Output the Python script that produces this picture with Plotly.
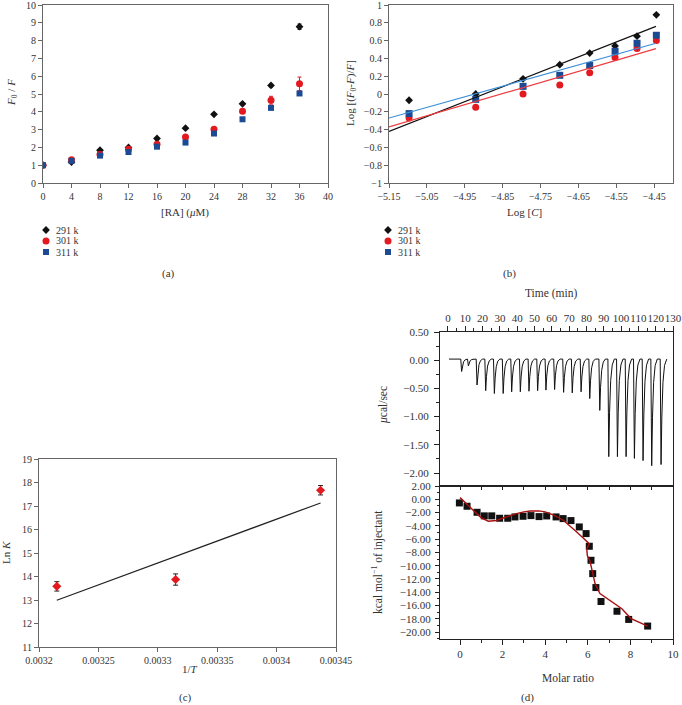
import plotly.graph_objects as go

# ---------------- data ----------------
# (a) Stern-Volmer
ra_conc = [0, 4, 8, 12, 16, 20, 24, 28, 32, 36]
a_291 = [1.0, 1.18, 1.84, 2.0, 2.5, 3.08, 3.86, 4.45, 5.48, 8.78]
a_291_err = [0.03, 0.04, 0.05, 0.05, 0.05, 0.05, 0.05, 0.06, 0.08, 0.15]
a_301 = [1.0, 1.31, 1.6, 1.89, 2.18, 2.59, 3.02, 4.03, 4.65, 5.57]
a_301_err = [0.03, 0.05, 0.06, 0.06, 0.08, 0.1, 0.08, 0.12, 0.22, 0.38]
a_311 = [1.0, 1.24, 1.54, 1.74, 2.04, 2.27, 2.78, 3.58, 4.22, 5.03]
a_311_err = [0.03, 0.04, 0.05, 0.05, 0.05, 0.06, 0.08, 0.06, 0.08, 0.1]

# (b) double-log plot
log_c = [-5.097, -4.921, -4.796, -4.699, -4.620, -4.553, -4.495, -4.444]
b_291 = [-0.07, 0.0, 0.17, 0.33, 0.46, 0.54, 0.65, 0.89]
b_301 = [-0.27, -0.15, 0.0, 0.10, 0.24, 0.41, 0.51, 0.60]
b_311 = [-0.22, -0.06, 0.086, 0.21, 0.32, 0.48, 0.57, 0.66]
fit_b_x = [-5.15, -4.445]
fit_b_291 = [-0.42, 0.76]
fit_b_301 = [-0.37, 0.51]
fit_b_311 = [-0.27, 0.57]

# (c) van't Hoff
inv_t = [0.003215, 0.003315, 0.003437]
ln_k = [13.58, 13.87, 17.67]
ln_k_err = [0.2, 0.24, 0.2]
fit_c_x = [0.003215, 0.003437]
fit_c_y = [12.99, 17.13]

# (d) ITC raw data: injection time (min) and peak heat rate (ucal/sec)
inj_time = [7.9, 11.8, 16.8, 21.8, 26.8, 31.9, 36.8, 41.8, 46.8, 51.8, 56.6, 61.6,
            66.8, 71.8, 76.9, 81.9, 87.7, 92.9, 97.9, 102.9, 107.7, 112.7, 117.7, 123.1]
inj_peak = [-0.2, -0.1, -0.44, -0.54, -0.59, -0.59, -0.56, -0.56, -0.55, -0.54, -0.53, -0.52,
            -0.57, -0.58, -0.56, -0.68, -0.89, -1.71, -1.71, -1.71, -1.74, -1.78, -1.87, -1.85]
therm_baseline = 0.02
therm_start, therm_end = 0.6, 126.4

# (d) integrated heats
molar_ratio = [-0.03, 0.33, 0.8, 1.14, 1.49, 1.86, 2.24, 2.58, 2.96, 3.33, 3.71, 4.07, 4.51,
               4.84, 5.21, 5.6, 5.92, 6.07, 6.15, 6.23, 6.38, 6.62, 7.37, 7.92, 8.81]
kcal_inj = [-0.55, -1.05, -1.96, -2.5, -2.5, -2.86, -2.86, -2.66, -2.56, -2.46, -2.61, -2.51, -2.66,
            -2.91, -3.21, -4.17, -5.17, -7.08, -9.19, -11.2, -13.3, -15.4, -16.87, -18.1, -19.1]
fit_mr = [0.0, 0.4, 0.8, 1.0, 1.33, 1.7, 2.1, 2.6, 3.0, 3.3, 3.7, 4.0, 4.4, 4.85, 5.48, 6.07,
          5.95, 5.98, 6.1, 6.21, 6.34, 6.57, 6.95, 7.35, 7.6, 8.03, 8.81]
fit_kcal = [0.25, -0.9, -2.2, -2.8, -3.3, -3.2, -2.75, -2.2, -1.9, -1.76, -1.75, -1.9, -2.4, -3.16,
            -4.92, -6.68, -7.5, -8.5, -9.3, -10.9, -12.7, -14.2, -15.0, -15.9, -16.5, -17.97, -19.1]

series_names = ["291 k", "301 k", "311 k"]

# tick labels
a_xticks = [0, 4, 8, 12, 16, 20, 24, 28, 32, 36, 40]
a_yticks = [0, 1, 2, 3, 4, 5, 6, 7, 8, 9, 10]
b_xticks = [-5.15, -5.05, -4.95, -4.85, -4.75, -4.65, -4.55, -4.45]
b_xtext = ["\u22125.15", "\u22125.05", "\u22124.95", "\u22124.85", "\u22124.75", "\u22124.65", "\u22124.55", "\u22124.45"]
b_yticks = [1, 0.8, 0.6, 0.4, 0.2, 0, -0.2, -0.4, -0.6, -0.8, -1]
b_ytext = ["1", "0.8", "0.6", "0.4", "0.2", "0", "\u22120.2", "\u22120.4", "\u22120.6", "\u22120.8", "\u22121"]
c_xticks = [0.0032, 0.00325, 0.0033, 0.00335, 0.0034, 0.00345]
c_xtext = ["0.0032", "0.00325", "0.0033", "0.00335", "0.0034", "0.00345"]
c_yticks = [11, 12, 13, 14, 15, 16, 17, 18, 19]
d_time_ticks = list(range(0, 131, 10))
d_top_yticks = [0.5, 0.0, -0.5, -1.0, -1.5, -2.0]
d_top_ytext = ["0.50", "0.00", "\u22120.50", "\u22121.00", "\u22121.50", "\u22122.00"]
d_bot_yticks = [2, 0, -2, -4, -6, -8, -10, -12, -14, -16, -18, -20]
d_bot_ytext = ["2.00", "0.00"] + ["\u2212%d.00" % v for v in range(2, 21, 2)]
d_mr_ticks = [0, 2, 4, 6, 8, 10]

# ---------------- styling helpers ----------------
W, H = 682, 705
FONT = "Liberation Serif"
TXT = "#333333"
BLACK, RED, BLUE = "#111111", "#e3191f", "#1c4b93"
LBLUE = "#3b8fd9"


def fx(p):
    return p / W


def fy(p):
    return 1 - p / H


def axis_common(fs=10, **kw):
    d = dict(showline=True, linecolor="#666666", linewidth=1, mirror=True,
             ticks="outside", ticklen=4, tickcolor="#666666", showgrid=False,
             zeroline=False, automargin=False, tickangle=0,
             tickfont=dict(family=FONT, size=fs, color=TXT))
    d.update(kw)
    return d


# thermogram polyline built from the injection list
PEAK_SHAPE = [(-0.5, 0.0), (0.0, 1.0), (0.45, 0.55), (1.1, 0.22), (2.0, 0.06), (3.2, 0.0)]
therm_x = [therm_start]
therm_y = [therm_baseline]
for t, d in zip(inj_time, inj_peak):
    for dt, f in PEAK_SHAPE:
        therm_x.append(t + dt)
        therm_y.append(therm_baseline + f * (d - therm_baseline))
therm_x.append(therm_end)
therm_y.append(therm_baseline)

fig = go.Figure()

# ---- (a)
specs = [(a_291, a_291_err, BLACK, "diamond", 6),
         (a_301, a_301_err, RED, "circle", 7),
         (a_311, a_311_err, BLUE, "square", 6)]
for (ys, es, col, sym, sz), nm in zip(specs, series_names):
    fig.add_trace(go.Scatter(x=ra_conc, y=ys, mode="markers", name=nm, showlegend=False,
                             marker=dict(color=col, symbol=sym, size=sz),
                             error_y=dict(type="data", array=es, color=col, thickness=1, width=2),
                             xaxis="x", yaxis="y"))

# ---- (b)
for ys, col, sym, sz, nm in [(b_291, BLACK, "diamond", 6, series_names[0]),
                             (b_301, RED, "circle", 7, series_names[1]),
                             (b_311, BLUE, "square", 7, series_names[2])]:
    fig.add_trace(go.Scatter(x=log_c, y=ys, mode="markers", name=nm, showlegend=False,
                             marker=dict(color=col, symbol=sym, size=sz),
                             xaxis="x2", yaxis="y2"))
for ys, col in [(fit_b_291, BLACK), (fit_b_301, "#ee3b3f"), (fit_b_311, LBLUE)]:
    fig.add_trace(go.Scatter(x=fit_b_x, y=ys, mode="lines", showlegend=False,
                             line=dict(color=col, width=1.2), xaxis="x2", yaxis="y2"))

# ---- (c)
fig.add_trace(go.Scatter(x=fit_c_x, y=fit_c_y, mode="lines", showlegend=False,
                         line=dict(color="#222222", width=1.2), xaxis="x3", yaxis="y3"))
fig.add_trace(go.Scatter(x=inv_t, y=ln_k, mode="markers", showlegend=False,
                         marker=dict(color=RED, symbol="diamond", size=7),
                         error_y=dict(type="data", array=ln_k_err, color="#222222", thickness=1, width=2.5),
                         xaxis="x3", yaxis="y3"))

# ---- (d) top thermogram
fig.add_trace(go.Scatter(x=therm_x, y=therm_y, mode="lines", showlegend=False,
                         line=dict(color="#111111", width=1), xaxis="x4", yaxis="y4"))
# ---- (d) bottom integrated heats
fig.add_trace(go.Scatter(x=molar_ratio, y=kcal_inj, mode="markers", showlegend=False,
                         marker=dict(color="#111111", symbol="square", size=7),
                         xaxis="x5", yaxis="y5"))
fig.add_trace(go.Scatter(x=fit_mr, y=fit_kcal, mode="lines", showlegend=False,
                         line=dict(color="#a80f0f", width=1.4), xaxis="x5", yaxis="y5"))
# invisible trace for inner tick axis
fig.add_trace(go.Scatter(x=[0], y=[0], mode="markers", showlegend=False, hoverinfo="skip",
                         marker=dict(opacity=0), xaxis="x6", yaxis="y5"))

# ---- legend keys (pixel overlay)
leg_rows = [230, 241, 252]
leg_syms = [("diamond", BLACK, 6), ("circle", RED, 7), ("square", BLUE, 6)]
for lx in (46, 388):
    for ry, (sym, col, sz) in zip(leg_rows, leg_syms):
        fig.add_trace(go.Scatter(x=[lx], y=[ry], mode="markers", showlegend=False, hoverinfo="skip",
                                 marker=dict(symbol=sym, color=col, size=sz),
                                 xaxis="x9", yaxis="y9"))

ann = []


def txt(x, y, s, size=11, angle=0, xanchor="center"):
    ann.append(dict(x=fx(x), y=fy(y), xref="paper", yref="paper", text=s, showarrow=False,
                    textangle=angle, xanchor=xanchor, yanchor="middle",
                    font=dict(family=FONT, size=size, color=TXT)))


for lx in (54, 396):
    for ry, nm in zip(leg_rows, series_names):
        txt(lx, ry, nm, size=10, xanchor="left")

txt(185, 212, "[RA] (<i>\u03bc</i>M)")
txt(12, 93, "<i>F</i><sub>0</sub> / <i>F</i>", angle=-90)
txt(168, 273, "(a)")
txt(524, 212, "Log [<i>C</i>]")
txt(351, 93, "Log [(<i>F</i><sub>0</sub>-<i>F</i>)/<i>F</i>]", angle=-90)
txt(509, 273, "(b)")
txt(190, 669, "1/<i>T</i>")
txt(6, 553, "Ln <i>K</i>", angle=-90)
txt(185, 697, "(c)")
txt(551, 293, "Time (min)", size=11.5)
txt(383, 405, "<i>\u03bc</i>cal/sec", size=11.5, angle=-90)
txt(377, 562, "kcal mol<sup>\u22121</sup> of injectant", size=11.5, angle=-90)
txt(568, 678, "Molar ratio", size=11.5)
txt(527, 697, "(d)")

fig.update_layout(
    template="none",
    width=W, height=H, margin=dict(l=0, r=0, t=0, b=0, pad=0),
    paper_bgcolor="white", plot_bgcolor="rgba(0,0,0,0)", showlegend=False,
    font=dict(family=FONT, size=10, color=TXT),
    annotations=ann,
    xaxis=axis_common(domain=[fx(43), fx(328)], range=[0, 40], tickvals=a_xticks, anchor="y"),
    yaxis=axis_common(domain=[fy(183), fy(5)], range=[0, 10], tickvals=a_yticks, anchor="x"),
    xaxis2=axis_common(domain=[fx(389), fx(673)], range=[-5.15, -4.40], tickvals=b_xticks,
                       ticktext=b_xtext, anchor="y2"),
    yaxis2=axis_common(domain=[fy(183), fy(5)], range=[-1, 1], tickvals=b_yticks,
                       ticktext=b_ytext, anchor="x2"),
    xaxis3=axis_common(domain=[fx(39), fx(336)], range=[0.0032, 0.00345], tickvals=c_xticks,
                       ticktext=c_xtext, anchor="y3"),
    yaxis3=axis_common(domain=[fy(647), fy(459)], range=[11, 19], tickvals=c_yticks, anchor="x3"),
    xaxis4=axis_common(fs=11, domain=[fx(440), fx(673)], range=[-4.6, 130], tickvals=d_time_ticks,
                       side="top", anchor="y4", linecolor="#222", tickcolor="#222", ticklen=5,
                       minor=dict(tickmode="linear", tick0=5, dtick=10, ticks="outside", ticklen=3,
                                  tickcolor="#222")),
    yaxis4=axis_common(fs=11, domain=[fy(486), fy(332)], range=[-2.23, 0.5], tickvals=d_top_yticks,
                       ticktext=d_top_ytext, anchor="x4", linecolor="#222", tickcolor="#222",
                       ticklen=5, ticklabelstandoff=3,
                       minor=dict(tickmode="linear", tick0=0.25, dtick=0.5, ticks="outside",
                                  ticklen=3, tickcolor="#222")),
    xaxis5=axis_common(fs=11, domain=[fx(440), fx(673)], range=[-0.94, 10], tickvals=d_mr_ticks,
                       anchor="y5", linecolor="#222", tickcolor="#222", ticklen=5,
                       minor=dict(tickmode="linear", tick0=1, dtick=2, ticks="outside", ticklen=3,
                                  tickcolor="#222")),
    yaxis5=axis_common(fs=11, domain=[fy(639), fy(486)], range=[-21.05, 2], tickvals=d_bot_yticks,
                       ticktext=d_bot_ytext, anchor="x5", linecolor="#222", tickcolor="#222",
                       ticklen=4, ticklabelstandoff=2,
                       minor=dict(tickmode="linear", tick0=1, dtick=2, ticks="outside", ticklen=2,
                                  tickcolor="#222")),
    xaxis6=dict(overlaying="x5", anchor="y5", side="top", range=[-0.94, 10], automargin=False,
                tickvals=list(range(0, 10)), ticks="inside", ticklen=4, tickcolor="#222",
                showticklabels=False, showline=False, showgrid=False, zeroline=False),
    xaxis9=dict(domain=[0, 1], range=[0, W], visible=False, fixedrange=True, anchor="y9",
                automargin=False),
    yaxis9=dict(domain=[0, 1], range=[H, 0], visible=False, fixedrange=True, anchor="x9",
                automargin=False),
)

fig.write_html(
    "out.html",
    config={"displayModeBar": False},
    post_script="document.documentElement.style.margin='0';document.body.style.margin='0';"
                "document.body.style.padding='0';document.body.style.overflow='hidden';",
)
